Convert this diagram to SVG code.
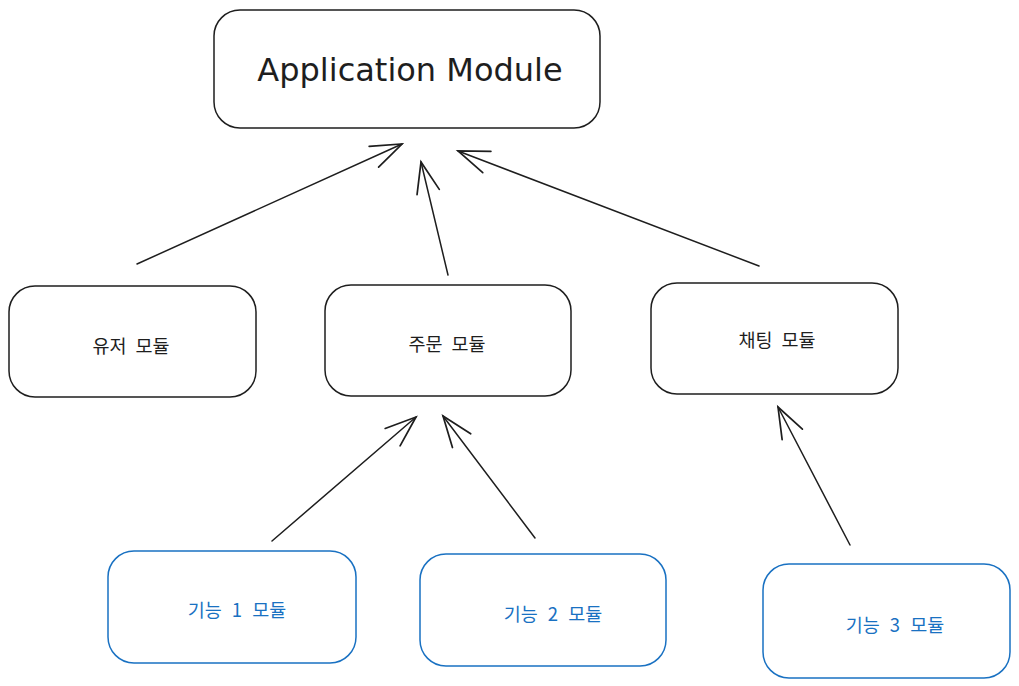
<svg xmlns="http://www.w3.org/2000/svg" width="1019" height="686" viewBox="0 0 1019 686">
<style>
.box{fill:#ffffff;stroke:#1e1e1e;stroke-width:1.5}
.blue{fill:#ffffff;stroke:#1971c2;stroke-width:1.5}
.lbl{font-family:"Noto Sans CJK KR","Noto Sans",sans-serif;font-size:18.5px;fill:#1e1e1e;text-anchor:middle;dominant-baseline:central;word-spacing:5px}
.lblb{font-family:"Noto Sans CJK KR","Noto Sans",sans-serif;font-size:18.5px;fill:#1971c2;text-anchor:middle;dominant-baseline:central;word-spacing:6px}
.title{font-family:"Comic Sans MS","DejaVu Sans",sans-serif;font-size:32px;fill:#1e1e1e;text-anchor:middle;dominant-baseline:central}
.edge{fill:none;stroke:#1e1e1e;stroke-width:1.5;stroke-linecap:round}
</style>
<defs>
<marker id="ah" markerUnits="userSpaceOnUse" markerWidth="40" markerHeight="40" refX="0" refY="0" viewBox="-30 -15 35 30" orient="auto" overflow="visible">
<path d="M -27 -10 L 0 0 L -27 10" fill="none" stroke="#1e1e1e" stroke-width="1.5" stroke-linecap="round"/>
</marker>
</defs>
<rect width="1019" height="686" fill="#ffffff"/>
<g id="connectors">
<line class="edge" x1="137" y1="264" x2="402" y2="144" marker-end="url(#ah)"/>
<line class="edge" x1="448" y1="275" x2="421" y2="162" marker-end="url(#ah)"/>
<line class="edge" x1="759" y1="266" x2="458" y2="151" marker-end="url(#ah)"/>
<line class="edge" x1="272" y1="541" x2="416" y2="417" marker-end="url(#ah)"/>
<line class="edge" x1="535" y1="538" x2="443" y2="416" marker-end="url(#ah)"/>
<line class="edge" x1="850" y1="545" x2="778" y2="407" marker-end="url(#ah)"/>
</g>
<g id="app">
<rect class="box" x="214" y="10" width="386" height="118" rx="26"/>
<text class="title" x="410" y="70">Application Module</text>
</g>
<g id="user">
<rect class="box" x="9" y="286" width="247" height="111" rx="26"/>
<text class="lbl" x="131" y="345">유저 모듈</text>
</g>
<g id="order">
<rect class="box" x="325" y="285" width="246" height="111" rx="26"/>
<text class="lbl" x="447" y="343">주문 모듈</text>
</g>
<g id="chat">
<rect class="box" x="651" y="283" width="247" height="111" rx="26"/>
<text class="lbl" x="777" y="339">채팅 모듈</text>
</g>
<g id="f1">
<rect class="blue" x="108" y="551" width="248" height="112" rx="26"/>
<text class="lblb" x="237" y="609">기능 1 모듈</text>
</g>
<g id="f2">
<rect class="blue" x="420" y="554" width="246" height="112" rx="26"/>
<text class="lblb" x="553" y="613">기능 2 모듈</text>
</g>
<g id="f3">
<rect class="blue" x="763" y="564" width="247" height="114" rx="26"/>
<text class="lblb" x="895" y="624">기능 3 모듈</text>
</g>
</svg>
